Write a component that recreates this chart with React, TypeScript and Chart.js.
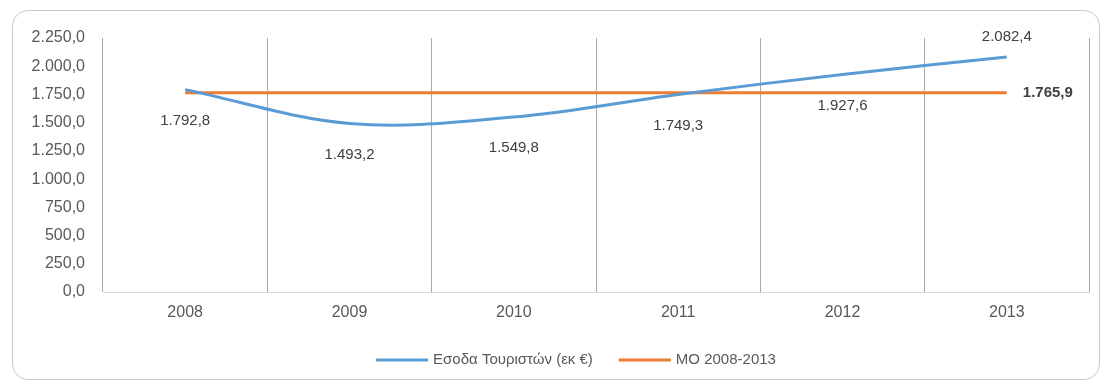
import React, { useEffect, useRef } from "react";
import { Chart, registerables } from "chart.js";

Chart.register(...registerables);

const categories = ["2008", "2009", "2010", "2011", "2012", "2013"];
const incomeValues = [1792.8, 1493.2, 1549.8, 1749.3, 1927.6, 2082.4];
const averageValue = 1765.9;
const averageValues = categories.map(() => averageValue);
const seriesNames = ["Εσοδα Τουριστών (εκ €)", "ΜΟ 2008-2013"];
const yMin = 0;
const yMax = 2250;
const yStep = 250;

const FONT = "'Liberation Sans', Arial, sans-serif";

function fmt(v: number): string {
  const [i, d] = v.toFixed(1).split(".");
  return i.replace(/\B(?=(\d{3})+(?!\d))/g, ".") + "," + d;
}

const labelPlugin = {
  id: "valueLabels",
  afterDatasetsDraw(chart: any) {
    const ctx = chart.ctx;
    ctx.save();
    ctx.textAlign = "center";
    ctx.textBaseline = "middle";
    ctx.fillStyle = "#404040";
    ctx.font = `15px ${FONT}`;
    const meta0 = chart.getDatasetMeta(0);
    meta0.data.forEach((pt: any, i: number) => {
      const last = i === meta0.data.length - 1;
      const y = last ? pt.y - 20 : pt.y + 31;
      ctx.fillText(fmt(incomeValues[i]), pt.x, y);
    });
    const meta1 = chart.getDatasetMeta(1);
    const lastPt = meta1.data[meta1.data.length - 1];
    ctx.font = `bold 15px ${FONT}`;
    ctx.textAlign = "left";
    ctx.fillText(fmt(averageValue), lastPt.x + 16, lastPt.y);
    ctx.restore();
  },
};

// Custom bottom legend (line sample + text), centred like the original
const legendPlugin = {
  id: "customLegend",
  afterDraw(chart: any) {
    const ctx = chart.ctx;
    const boxW = 52;
    const gapText = 5;
    const gapItem = 26;
    const cx = 576;
    const cy = 360;
    ctx.save();
    ctx.font = `15px ${FONT}`;
    ctx.textBaseline = "middle";
    ctx.textAlign = "left";
    const items = chart.data.datasets.map((ds: any) => ({
      text: ds.label,
      color: ds.borderColor,
      w: boxW + gapText + ctx.measureText(ds.label).width,
    }));
    const total = items.reduce((s: number, it: any) => s + it.w, 0) + gapItem * (items.length - 1);
    let x = cx - total / 2;
    items.forEach((it: any) => {
      ctx.fillStyle = it.color;
      ctx.fillRect(x, cy - 1.5, boxW, 3);
      ctx.fillStyle = "#595959";
      ctx.fillText(it.text, x + boxW + gapText, cy);
      x += it.w + gapItem;
    });
    ctx.restore();
  },
};

export default function App() {
  const ref = useRef<HTMLCanvasElement>(null);
  useEffect(() => {
    if (!ref.current) return;
    const chart = new Chart(ref.current, {
      type: "line",
      data: {
        labels: categories,
        datasets: [
          {
            label: seriesNames[0],
            data: incomeValues,
            borderColor: "#5B9BD5",
            backgroundColor: "#5B9BD5",
            borderWidth: 3,
            pointRadius: 0,
            tension: 0.35,
          },
          {
            label: seriesNames[1],
            data: averageValues,
            borderColor: "#ED7D31",
            backgroundColor: "#ED7D31",
            borderWidth: 3,
            pointRadius: 0,
            tension: 0,
          },
        ],
      },
      options: {
        animation: false,
        responsive: false,
        layout: { padding: { left: 0, right: 16, top: 38, bottom: 58.5 } },
        plugins: {
          tooltip: { enabled: false },
          legend: { display: false },
        },
        scales: {
          x: {
            offset: true,
            grid: {
              offset: true,
              display: true,
              color: "#a9a9a9",
              drawTicks: false,
            },
            border: { display: true, color: "#d9d9d9" },
            ticks: {
              padding: 11,
              color: "#595959",
              font: { family: FONT, size: 16 },
            },
            afterFit: (s: any) => {
              s.height = 34.5;
            },
          },
          y: {
            min: yMin,
            max: yMax,
            grid: { display: false, drawTicks: false },
            border: { display: false },
            ticks: {
              stepSize: yStep,
              padding: 18,
              color: "#595959",
              font: { family: FONT, size: 16 },
              callback: (v: any) => fmt(Number(v)),
            },
            afterFit: (s: any) => {
              s.width = 103;
            },
          },
        },
      },
      plugins: [labelPlugin, legendPlugin],
    });
    return () => chart.destroy();
  }, []);
  return (
    <div style={{ position: "absolute", left: 0, top: 0, width: 1105, height: 385, background: "#fff" }}>
      <div
        style={{
          position: "absolute",
          left: 12,
          top: 10,
          width: 1086,
          height: 368,
          border: "1px solid #c8c8c8",
          borderRadius: 16,
        }}
      />
      <canvas ref={ref} width={1105} height={385} style={{ position: "absolute", left: 0, top: 0 }} />
    </div>
  );
}
